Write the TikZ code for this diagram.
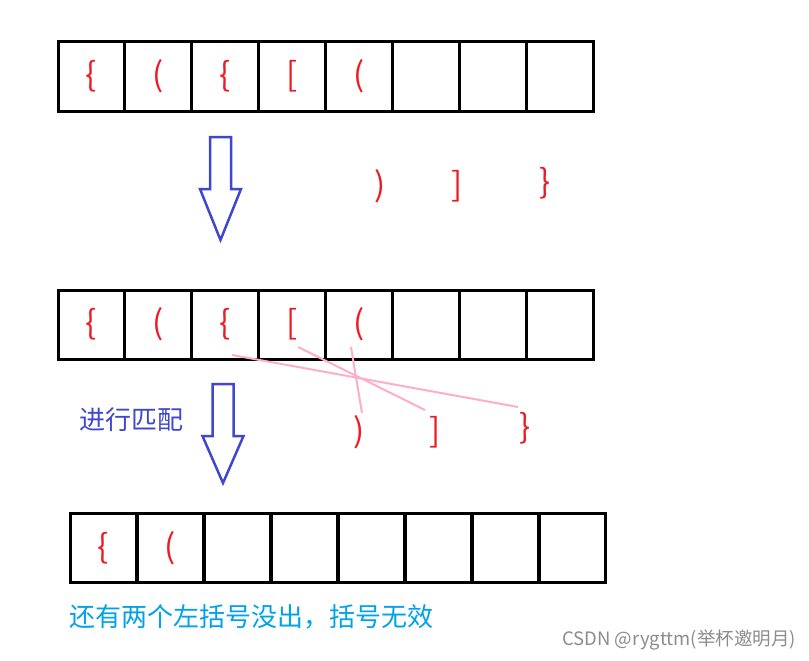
\documentclass[tikz,border=0pt]{standalone}
\usepackage{fontspec}
\setmainfont{Noto Sans CJK SC}
\usepackage{tikz}
\usetikzlibrary{positioning}
\definecolor{paintred}{HTML}{ED1C24}
\definecolor{paintblue}{HTML}{3F48CC}
\definecolor{paintrose}{HTML}{FFAEC9}
\definecolor{paintcyan}{HTML}{00A2E8}
\tikzset{
    cell/.style={
           rectangle,
           draw=black, line width=3pt,
           minimum width=66.9pt,
           minimum height=69pt,
           inner sep=0pt, outer sep=0pt,
           text=paintred,
           font=\fontsize{33pt}{36pt}\selectfont,
           },
    bracket/.style={
           inner sep=0pt,
           text=paintred,
           font=\fontsize{33pt}{36pt}\selectfont,
           },
    blockarrow/.style={draw=paintblue, line width=2.5pt, line join=miter},
    match/.style={draw=paintrose, line width=2pt},
    note/.style={anchor=west, inner sep=0pt, font=\fontsize{26pt}{30pt}\selectfont},
}

\begin{document}
\begin{tikzpicture}[x=1pt,y=-1pt]
 \useasboundingbox (0,0) rectangle (809,661);

 % stack before matching
 \foreach \i/\t in {0/\{,1/(,2/\{,3/[,4/(,5/{},6/{},7/{}}
   \node[cell] (a\i) at (91.5+66.9*\i,76.5) {\t};
 \node[bracket] (r1) at (380,186) {)};
 \node[bracket] (r2) at (457,186) {]};
 \node[bracket] (r3) at (545,183) {\}};

 % stack while matching
 \foreach \i/\t in {0/\{,1/(,2/\{,3/[,4/(,5/{},6/{},7/{}}
   \node[cell] (b\i) at (91.5+66.9*\i,324.5) {\t};
 \node[bracket] (q1) at (359,432) {)};
 \node[bracket] (q2) at (435,432) {]};
 \node[bracket] (q3) at (525,428) {\}};

 \coordinate (s1) at (351,347);
 \coordinate (s2) at (298,347);
 \coordinate (s3) at (232,355);
 \coordinate (e1) at (362,413);
 \coordinate (e2) at (425,410);
 \coordinate (e3) at (518,407);
 \draw[match] (s1) -- (e1);
 \draw[match] (s2) -- (e2);
 \draw[match] (s3) -- (e3);

 % stack after matching
 \foreach \i/\t in {0/\{,1/(,2/{},3/{},4/{},5/{},6/{},7/{}}
   \node[cell] (c\i) at (103.5+67*\i,548) {\t};

 % arrows
 \foreach \x/\y/\l in {220.5/137/103, 223/384/99}
   \draw[blockarrow] (\x-10.5,\y) -- (\x+10.5,\y) -- (\x+10.5,\y+52)
     -- (\x+20.5,\y+52) -- (\x,\y+\l) -- (\x-20.5,\y+52)
     -- (\x-10.5,\y+52) -- cycle;

 \node[note, text=paintblue] (doing) at (79,420) {进行匹配};
 \node[note, text=paintcyan] (result) at (69,617) {还有两个左括号没出，括号无效};
 \node[anchor=east, inner sep=0pt, text=black!45,
   font=\fontsize{18.5pt}{20pt}\selectfont] (mark) at (796,640)
   {CSDN @rygttm(举杯邀明月)};
\end{tikzpicture}
\end{document}
